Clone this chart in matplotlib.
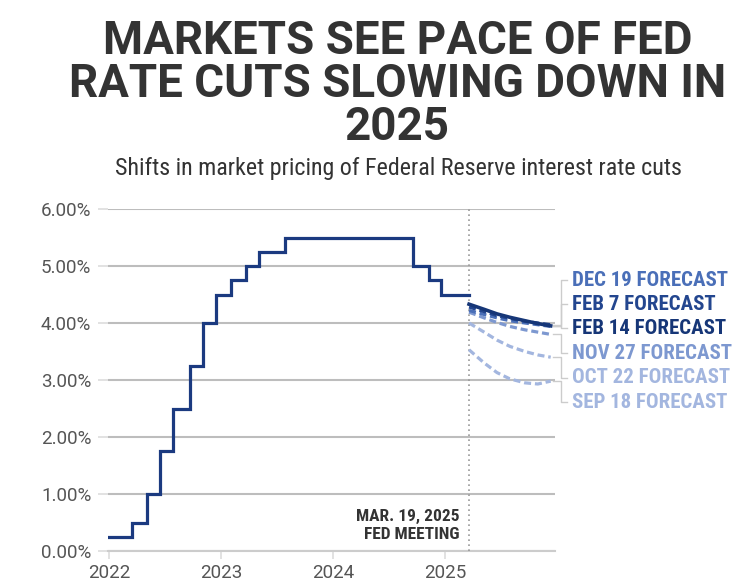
import matplotlib
matplotlib.use("Agg")
import matplotlib.pyplot as plt
import matplotlib.transforms as mtransforms
from matplotlib.textpath import TextPath
from matplotlib.font_manager import FontProperties, fontManager
import pandas as pd

# ---------------- data ----------------
rate_dates = ["2022-01-01", "2022-03-17", "2022-05-05", "2022-06-16", "2022-07-28",
              "2022-09-22", "2022-11-03", "2022-12-15", "2023-02-02", "2023-03-23",
              "2023-05-04", "2023-07-27", "2024-09-19", "2024-11-08", "2024-12-19",
              "2025-03-19"]
rate_values = [0.25, 0.50, 1.00, 1.75, 2.50, 3.25, 4.00, 4.50, 4.75, 5.00,
               5.25, 5.50, 5.00, 4.75, 4.50, 4.50]

forecast_dates = ["2025-03-19", "2025-05-07", "2025-06-18", "2025-07-30",
                  "2025-09-17", "2025-10-29", "2025-12-10"]
fc_sep18 = [3.53, 3.30, 3.13, 3.02, 2.95, 2.93, 2.98]
fc_oct22 = [4.00, 3.84, 3.70, 3.59, 3.50, 3.44, 3.40]
fc_nov27 = [4.19, 4.09, 4.01, 3.94, 3.88, 3.84, 3.80]
fc_dec19 = [4.22, 4.15, 4.09, 4.04, 4.00, 3.97, 3.94]
fc_feb07 = [4.28, 4.20, 4.13, 4.08, 4.03, 4.00, 3.97]
fc_feb14 = [4.33, 4.24, 4.16, 4.10, 4.04, 3.99, 3.95]

forecast_labels = ["DEC 19 FORECAST", "FEB 7 FORECAST", "FEB 14 FORECAST",
                   "NOV 27 FORECAST", "OCT 22 FORECAST", "SEP 18 FORECAST"]

y_ticks = [0, 1, 2, 3, 4, 5, 6]
y_tick_labels = ["0.00%", "1.00%", "2.00%", "3.00%", "4.00%", "5.00%", "6.00%"]
x_tick_years = [2022, 2023, 2024, 2025]
meeting_date = "2025-03-19"
meeting_label = "MAR. 19, 2025\nFED MEETING"

title_lines = ["MARKETS SEE PACE OF FED", "RATE CUTS SLOWING DOWN IN", "2025"]
subtitle = "Shifts in market pricing of Federal Reserve interest rate cuts"

# ---------------- style ----------------
NARROW = ["Roboto Condensed", "DejaVu Sans"]
TICKF = ["Roboto", "DejaVu Sans"]
DARK = "#333333"
NAVY = "#1b3a80"

W, H = 750, 588
fig = plt.figure(figsize=(7.5, 5.88), dpi=100)
fig.patch.set_facecolor("white")

def fx(px):
    return px / W

def fy(py):
    return 1 - py / H

ax = fig.add_axes([fx(108), fy(551), fx(555) - fx(108), fy(209) - fy(551)])

rd = pd.to_datetime(rate_dates)
fd = pd.to_datetime(forecast_dates)

ax.step(rd, rate_values, where="post", color=NAVY, lw=2.3, zorder=5,
        solid_joinstyle="miter")

series = [
    (fc_sep18, "#a3b6df", "--"),
    (fc_oct22, "#a3b6df", "--"),
    (fc_nov27, "#7d98d0", "--"),
    (fc_dec19, "#4a6fb8", "--"),
    (fc_feb07, "#23468f", "--"),
    (fc_feb14, "#163677", "-"),
]
for vals, col, ls in series:
    if ls == "--":
        ax.plot(fd, vals, color=col, lw=2.3, linestyle=(0, (2.2, 1.2)), zorder=4)
    else:
        ax.plot(fd, vals, color=col, lw=2.6, zorder=6)

ax.set_xlim(pd.Timestamp("2021-12-29"), pd.Timestamp("2025-12-24"))
ax.set_ylim(0, 6)

ax.set_yticks(y_ticks)
ax.set_yticklabels(y_tick_labels, family=TICKF, fontsize=13.5, color="#555555")
ax.yaxis.grid(True, color="#bdbdbd", lw=1.5)
ax.set_axisbelow(True)
ax.tick_params(axis="y", length=7, width=1.2, color="#dddddd", pad=5)

ax.set_xticks([pd.Timestamp(f"{y}-01-01") for y in x_tick_years])
ax.set_xticklabels([str(y) for y in x_tick_years], family=TICKF, fontsize=13.5,
                   color="#555555")
ax.tick_params(axis="x", length=6, width=1.2, color="#dddddd", pad=3)

for s in ["top", "right", "left"]:
    ax.spines[s].set_visible(False)
ax.spines["bottom"].set_color("#cccccc")
ax.spines["bottom"].set_linewidth(1.5)

# meeting line
md = pd.Timestamp(meeting_date)
ax.axvline(md, color="#999999", lw=1.2, linestyle=(0, (1, 2)), zorder=3)
ax.text(md - pd.Timedelta(days=30), 0.15, meeting_label, ha="right", va="bottom",
        family=NARROW, fontweight="bold", fontsize=12.5, color=DARK,
        linespacing=1.3)

# forecast labels with leader lines
label_colors = ["#4a6fb8", "#23468f", "#163677", "#7d98d0", "#a3b6df", "#a3b6df"]
label_y = [4.75, 4.33, 3.91, 3.47, 3.04, 2.61]
label_end = [fc_dec19[-1], fc_feb07[-1], fc_feb14[-1], fc_nov27[-1],
             fc_oct22[-1], fc_sep18[-1]]
trans = mtransforms.blended_transform_factory(ax.transAxes, ax.transData)
xa_end = 1.0
xa_mid = 1 + 6 / 447
xa_lab = 1 + 12 / 447
xa_txt = 1 + 17 / 447
for lab, col, ly, ey in zip(forecast_labels, label_colors, label_y, label_end):
    ax.plot([xa_end - 0.004, xa_mid, xa_mid, xa_lab], [ey, ey, ly, ly],
            transform=trans, color="#cccccc", lw=1, clip_on=False, zorder=2)
    ax.text(xa_txt, ly, lab, transform=trans, ha="left", va="center",
            family=NARROW, fontweight="bold", fontsize=15, color=col)

# ---------------- title: pick a bold face with the right width/height ----------------
TARGET_CAP = 32.5      # px
TARGET_W = 592.0       # px, first title line
candidates = ["Archivo Narrow", "Roboto Condensed", "Barlow Semi Condensed",
              "IBM Plex Sans Condensed", "Fira Sans Condensed",
              "Sofia Sans Semi Condensed", "Encode Sans Semi Condensed",
              "Asap Condensed", "PT Sans Narrow", "Archivo", "Roboto",
              "Libre Franklin"]
bold_names = {f.name for f in fontManager.ttflist
              if (isinstance(f.weight, int) and f.weight >= 700)
              or str(f.weight).lower() == "bold"}
best = None
for name in candidates:
    if name not in bold_names:
        continue
    try:
        fp = FontProperties(family=[name], weight="bold", size=100)
        cap = TextPath((0, 0), "H", prop=fp).get_extents().height
        wid = TextPath((0, 0), title_lines[0], prop=fp).get_extents().width
    except Exception:
        continue
    ratio = wid / cap
    err = abs(ratio - TARGET_W / TARGET_CAP)
    if best is None or err < best[0]:
        best = (err, name, cap / 100.0)
if best is None:
    best = (0, "Roboto Condensed", 0.711)
title_family = [best[1], "DejaVu Sans"]
title_px = TARGET_CAP / best[2]
title_pt = title_px * 72 / 100

title_kw = dict(family=title_family, fontweight="bold", color=DARK,
                fontsize=title_pt, ha="center", va="baseline")
fig.text(fx(398), fy(53.5), title_lines[0], **title_kw)
fig.text(fx(398), fy(97), title_lines[1], **title_kw)
fig.text(fx(397), fy(140.5), title_lines[2], **title_kw)

# subtitle fitted to measured width
fig.canvas.draw()
renderer = fig.canvas.get_renderer()
st = fig.text(fx(398), fy(175), subtitle, ha="center", va="baseline",
              fontsize=16, family=NARROW, color=DARK)
w = st.get_window_extent(renderer).width
st.set_fontsize(16 * 570 / w)

fig.savefig("out.png", dpi=100, facecolor="white")
